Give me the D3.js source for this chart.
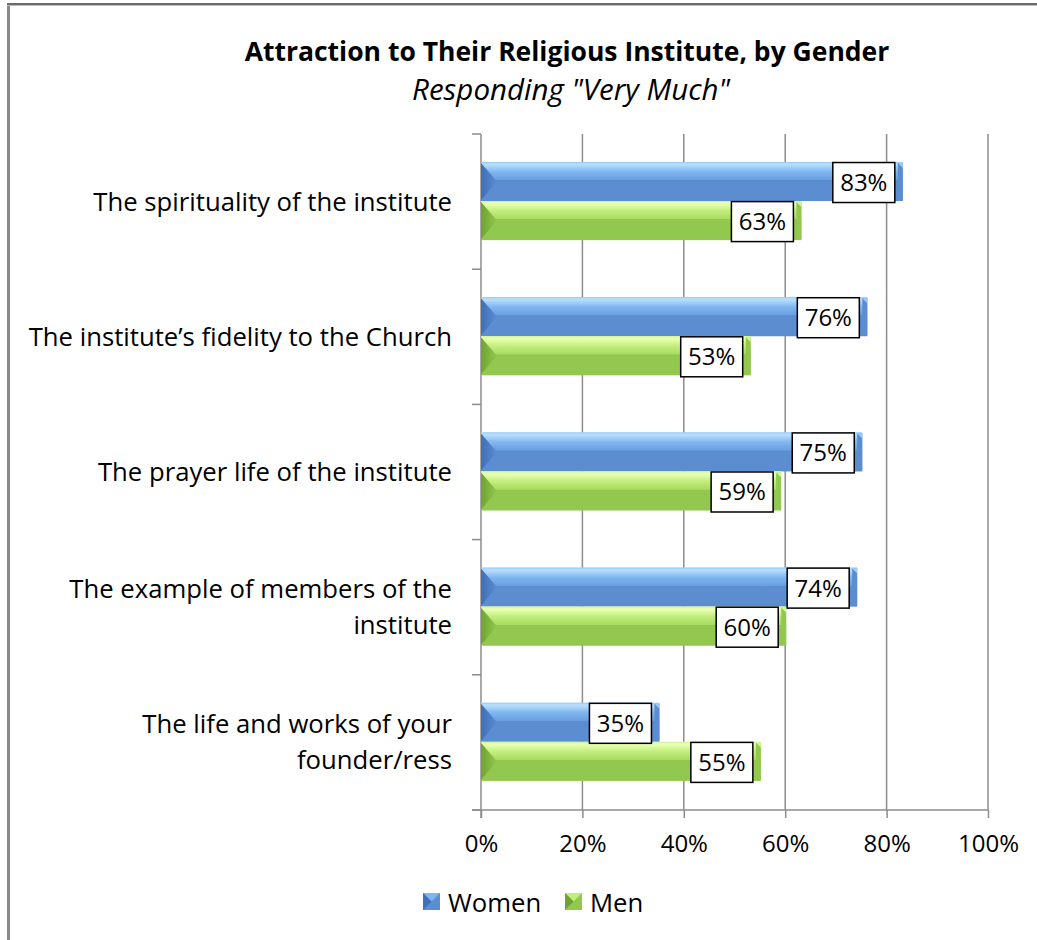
<!DOCTYPE html>
<html><head><meta charset="utf-8">
<script src="https://cdn.jsdelivr.net/npm/d3@7"></script>
<style>
html,body{margin:0;padding:0;background:#fff;}
svg{display:block;font-family:"Open Sans",sans-serif;}
</style></head>
<body>
<svg id="chart" width="1037" height="940"></svg>
<script>
const categories = [
  ["The spirituality of the institute"],
  ["The institute\u2019s fidelity to the Church"],
  ["The prayer life of the institute"],
  ["The example of members of the", "institute"],
  ["The life and works of your", "founder/ress"]
];
const seriesNames = ["Women", "Men"];
const women = [83, 76, 75, 74, 35];
const men = [63, 53, 59, 60, 55];
const tickValues = [0, 20, 40, 60, 80, 100];
const title = "Attraction to Their Religious Institute, by Gender";
const subtitle = "Responding \"Very Much\"";

const svg = d3.select("#chart");
const W = 1037, H = 940;
const plot = {left: 481, right: 988, top: 134, bottom: 810};

const defs = svg.append("defs");
const palettes = {
  Women: {top: "#b4dcfc", mid: "#7fb6ef", low: "#6a9fe0", body: "#5b8dd0", dark: "#3f6fb5", cap: "#9ccbf6"},
  Men: {top: "#e6ffb0", mid: "#c2ee7c", low: "#a9db60", body: "#92c84f", dark: "#6fa233", cap: "#d2f596"}
};
Object.entries(palettes).forEach(([k, p]) => {
  const g = defs.append("linearGradient").attr("id", "grad" + k).attr("x1", 0).attr("y1", 0).attr("x2", 0).attr("y2", 1);
  [[0, p.top], [0.08, p.top], [0.25, p.mid], [0.46, p.low], [0.47, p.body], [1, p.body]].forEach(([o, c]) =>
    g.append("stop").attr("offset", o).attr("stop-color", c));
  const gl = defs.append("linearGradient").attr("id", "left" + k).attr("x1", 0).attr("y1", 0).attr("x2", 1).attr("y2", 0);
  gl.append("stop").attr("offset", 0).attr("stop-color", p.dark);
  gl.append("stop").attr("offset", 1).attr("stop-color", p.body);
});

// frame
svg.append("rect").attr("x", 7).attr("y", 4).attr("width", 3).attr("height", H - 4).attr("fill", "#8a8a8a");
svg.append("rect").attr("x", 7).attr("y", 3).attr("width", W - 7).attr("height", 2).attr("fill", "#6a6a6a");
svg.append("rect").attr("x", 7).attr("y", 5).attr("width", W - 7).attr("height", 1).attr("fill", "#bdbdbd");

// titles
svg.append("text").attr("x", 567).attr("y", 61).attr("text-anchor", "middle")
  .attr("font-size", 26.5).attr("font-weight", "bold").attr("fill", "#000").text(title);
svg.append("text").attr("x", 571).attr("y", 100).attr("text-anchor", "middle")
  .attr("font-size", 29.5).attr("font-style", "italic").attr("fill", "#000").text(subtitle);

const x = d3.scaleLinear().domain([0, 100]).range([plot.left, plot.right]);
const y = d3.scaleBand().domain(d3.range(categories.length)).range([plot.top, plot.bottom]);
const yInner = d3.scaleBand().domain(seriesNames).range([y.bandwidth() * 0.207, y.bandwidth() * 0.785]);

// gridlines
svg.append("g").selectAll("line").data(tickValues.slice(1)).join("line")
  .attr("x1", d => x(d)).attr("x2", d => x(d)).attr("y1", plot.top).attr("y2", plot.bottom)
  .attr("stroke", "#8c8c8c").attr("stroke-width", 1.5);

// x axis
const xAxis = svg.append("g").attr("transform", `translate(0,${plot.bottom})`)
  .call(d3.axisBottom(x).tickValues(tickValues).tickSize(8).tickPadding(17).tickFormat(d => d + "%"));
xAxis.select(".domain").remove();
xAxis.selectAll(".tick line").attr("stroke", "#8c8c8c").attr("stroke-width", 1.5);
xAxis.selectAll("text").attr("font-size", 24).attr("fill", "#000").attr("font-family", "'Open Sans',sans-serif");
svg.append("line").attr("x1", plot.left - 9).attr("x2", plot.right).attr("y1", plot.bottom).attr("y2", plot.bottom)
  .attr("stroke", "#8c8c8c").attr("stroke-width", 1.5);

// y axis line & ticks
svg.append("line").attr("x1", plot.left).attr("x2", plot.left).attr("y1", plot.top).attr("y2", plot.bottom + 8)
  .attr("stroke", "#8c8c8c").attr("stroke-width", 1.5);
const yTicks = d3.range(categories.length + 1).map(i => plot.top + i * y.step());
svg.append("g").selectAll("line").data(yTicks).join("line")
  .attr("x1", plot.left - 9).attr("x2", plot.left).attr("y1", d => d).attr("y2", d => d)
  .attr("stroke", "#8c8c8c").attr("stroke-width", 1.5);

// category labels
categories.forEach((lines, i) => {
  const cy = y(i) + y.bandwidth() / 2;
  const lh = 36;
  const t = svg.append("text").attr("text-anchor", "end").attr("font-size", 25.7).attr("fill", "#000");
  lines.forEach((ln, j) => {
    t.append("tspan").attr("x", 452).attr("y", cy + (j - (lines.length - 1) / 2) * lh + 9).text(ln);
  });
});

// bars
const data = [];
categories.forEach((c, i) => {
  data.push({i, s: "Women", v: women[i]});
  data.push({i, s: "Men", v: men[i]});
});
const bars = svg.append("g").selectAll("g").data(data).join("g");
bars.each(function(d) {
  const g = d3.select(this);
  const p = palettes[d.s];
  const x0 = x(0), x1 = x(d.v) + 1;
  const y0 = y(d.i) + yInner(d.s), h = yInner.bandwidth();
  g.append("rect").attr("x", x0).attr("y", y0).attr("width", x1 - x0).attr("height", h).attr("fill", `url(#grad${d.s})`);
  g.append("polygon").attr("points", [[x0, y0 + 1], [x0 + 16, y0 + h / 2], [x0, y0 + h - 1]].map(q => q.join(",")).join(" "))
    .attr("fill", `url(#left${d.s})`);
  g.append("rect").attr("x", x1 - 5).attr("y", y0 + 1).attr("width", 5).attr("height", h - 2).attr("fill", p.body);
  g.append("polygon").attr("points", [[x1 - 5, y0 + 1], [x1, y0 + 1], [x1, y0 + 6]].map(q => q.join(",")).join(" "))
    .attr("fill", p.cap);
  g.append("line").attr("x1", x0).attr("x2", x1).attr("y1", y0 + 0.5).attr("y2", y0 + 0.5).attr("stroke", p.cap).attr("stroke-width", 1);
});

// data labels
const labels = svg.append("g").selectAll("g").data(data).join("g");
labels.each(function(d) {
  const g = d3.select(this);
  const cx = x(d.v) + 1 - 8 - 31;
  const cy = y(d.i) + yInner(d.s) + yInner.bandwidth() / 2 + 1;
  g.append("rect").attr("x", cx - 31).attr("y", cy - 20).attr("width", 62).attr("height", 40)
    .attr("fill", "#fff").attr("stroke", "#000").attr("stroke-width", 1.5);
  g.append("text").attr("x", cx).attr("y", cy + 8.5).attr("text-anchor", "middle").attr("font-size", 24).attr("fill", "#000").text(d.v + "%");
});

// legend
const legend = svg.append("g");
const legendItems = [{s: "Women", x: 423, tx: 448}, {s: "Men", x: 565, tx: 590}];
legendItems.forEach(it => {
  const p = palettes[it.s];
  const lx = it.x, ly = 893, sz = 17;
  legend.append("rect").attr("x", lx).attr("y", ly).attr("width", sz).attr("height", sz).attr("fill", p.body);
  legend.append("polygon").attr("points", `${lx},${ly} ${lx + sz},${ly} ${lx + sz / 2},${ly + sz / 2}`).attr("fill", p.mid);
  legend.append("polygon").attr("points", `${lx},${ly} ${lx + sz / 2},${ly + sz / 2} ${lx},${ly + sz}`).attr("fill", p.dark);
  legend.append("text").attr("x", it.tx).attr("y", ly + 19).attr("font-size", 25.7).attr("fill", "#000").text(it.s);
});
</script>
</body></html>
